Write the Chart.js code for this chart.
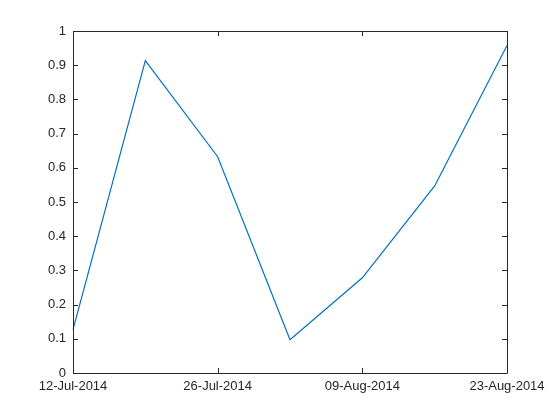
<!DOCTYPE html>
<html>
<head>
<meta charset="utf-8">
<title>Line over dates</title>
<script src="https://cdn.jsdelivr.net/npm/chart.js@4"></script>
<style>
  html, body { margin: 0; padding: 0; background: #fff; }
  #wrap { width: 560px; height: 420px; position: relative; }
</style>
</head>
<body>
<div id="wrap"><canvas id="plot"></canvas></div>
<script>
// weekly dates, only every other one gets a label
const dates = ['12-Jul-2014', '19-Jul-2014', '26-Jul-2014', '02-Aug-2014',
               '09-Aug-2014', '16-Aug-2014', '23-Aug-2014'];
const values = [0.1270, 0.9134, 0.6324, 0.0975, 0.2785, 0.5469, 0.9575];
const shownDates = ['12-Jul-2014', '26-Jul-2014', '09-Aug-2014', '23-Aug-2014'];
const yTicks = [0, 0.1, 0.2, 0.3, 0.4, 0.5, 0.6, 0.7, 0.8, 0.9, 1];

const axisColor = '#262626';
const tickLen = 5;

// matlab style box with inward ticks on all four sides
const boxTicks = {
  id: 'boxTicks',
  afterDraw(chart) {
    const { ctx, chartArea: a, scales } = chart;
    ctx.save();
    ctx.strokeStyle = axisColor;
    ctx.lineWidth = 1;
    ctx.beginPath();
    ctx.rect(Math.round(a.left) + 0.5, Math.round(a.top) + 0.5,
             Math.round(a.right - a.left), Math.round(a.bottom - a.top));
    yTicks.forEach(v => {
      const y = Math.round(scales.y.getPixelForValue(v)) + 0.5;
      ctx.moveTo(a.left, y); ctx.lineTo(a.left + tickLen, y);
      ctx.moveTo(a.right, y); ctx.lineTo(a.right - tickLen, y);
    });
    shownDates.forEach(d => {
      const x = Math.round(scales.x.getPixelForValue(dates.indexOf(d))) + 0.5;
      ctx.moveTo(x, a.bottom); ctx.lineTo(x, a.bottom - tickLen);
      ctx.moveTo(x, a.top); ctx.lineTo(x, a.top + tickLen);
    });
    ctx.stroke();
    ctx.restore();
  }
};

new Chart(document.getElementById('plot'), {
  type: 'line',
  data: {
    labels: dates,
    datasets: [{
      data: values,
      borderColor: '#0072BD',
      borderWidth: 1.2,
      pointRadius: 0,
      tension: 0,
      fill: false
    }]
  },
  options: {
    responsive: true,
    maintainAspectRatio: false,
    animation: false,
    layout: { padding: { top: 31, right: 53, left: 0, bottom: 0 } },
    plugins: { legend: { display: false }, tooltip: { enabled: false } },
    scales: {
      x: {
        type: 'category',
        offset: false,
        grid: { display: false, drawTicks: false },
        border: { display: false },
        afterFit: s => { s.height = 47; },
        ticks: {
          autoSkip: false,
          maxRotation: 0,
          padding: 6,
          color: axisColor,
          font: { family: 'Liberation Sans, Arial', size: 13 },
          callback: (v, i) => shownDates.includes(dates[i]) ? dates[i] : ''
        }
      },
      y: {
        min: 0,
        max: 1,
        grid: { display: false, drawTicks: false },
        border: { display: false },
        afterFit: s => { s.width = 73; },
        afterBuildTicks: s => { s.ticks = yTicks.map(v => ({ value: v })); },
        ticks: {
          padding: 7,
          color: axisColor,
          font: { family: 'Liberation Sans, Arial', size: 13 },
          callback: v => String(Math.round(v * 10) / 10)
        }
      }
    }
  },
  plugins: [boxTicks]
});
</script>
</body>
</html>
